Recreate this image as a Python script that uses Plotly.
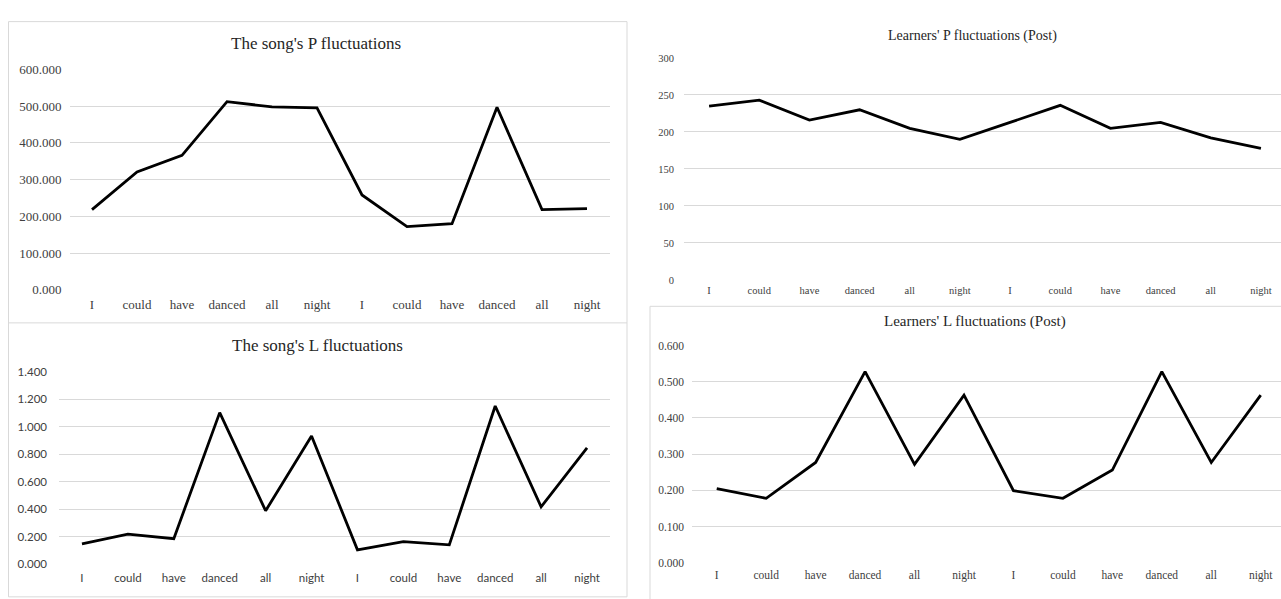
import plotly.graph_objects as go

W, H = 1281, 599

words = ["I", "could", "have", "danced", "all", "night",
         "I", "could", "have", "danced", "all", "night"]
positions = list(range(len(words)))

song_p = [218, 321, 366, 512, 498, 495, 258, 172, 180, 497, 218, 221]
song_l = [0.149, 0.220, 0.187, 1.104, 0.390, 0.934, 0.106, 0.166, 0.142, 1.152, 0.418, 0.847]
learn_p = [235, 243, 216, 230, 205, 190, 213, 236, 205, 213, 192, 178]
learn_l = [0.205, 0.178, 0.277, 0.528, 0.272, 0.463, 0.199, 0.178, 0.256, 0.528, 0.277, 0.463]

titles = ["The song's P fluctuations", "The song's L fluctuations",
          "Learners' P fluctuations (Post)", "Learners' L fluctuations (Post)"]


def fx(px):
    return px / W


def fy(py):
    return 1 - py / H


SERIF = "Liberation Serif, Times New Roman, serif"
SANS = "Lato, Carlito, Calibri, sans-serif"

panels = [
    dict(data=song_p, box=(69.5, 609.5, 64, 290), yr=[0, 600], dt=100, fmt=".3f",
         tfont=dict(family=SERIF, size=13, color="#404040"), ysb=7, xsb=5,
         title=titles[0], tpos=(316, 37), tsize=17, xr=[-0.5, 11.5]),
    dict(data=song_l, box=(59, 610, 374.3, 571.7), yr=[0, 1.4], dt=0.2, fmt=".3f",
         tfont=dict(family=SANS, size=11.5, color="#404040"), ysb=11, xsb=5,
         title=titles[1], tpos=(317, 347), tsize=17, xr=[-0.5, 11.5]),
    dict(data=learn_p, box=(684, 1281, 52.3, 280), yr=[0, 300], dt=50, fmt="d",
         tfont=dict(family=SERIF, size=10.5, color="#404040"), ysb=9, xsb=3,
         title=titles[2], tpos=(973, 30), tsize=14, xr=[-0.5, 11.4]),
    dict(data=learn_l, box=(692, 1281, 347.3, 570), yr=[0, 0.6], dt=0.1, fmt=".3f",
         tfont=dict(family=SERIF, size=11.5, color="#404040"), ysb=7, xsb=4,
         title=titles[3], tpos=(975, 323), tsize=15, xr=[-0.5, 11.41]),
]

fig = go.Figure()
layout = dict(
    width=W, height=H, margin=dict(l=0, r=0, t=0, b=0),
    paper_bgcolor="white", plot_bgcolor="white", showlegend=False,
)
annotations = []
for i, p in enumerate(panels):
    n = "" if i == 0 else str(i + 1)
    x0, x1, yt, yb = p["box"]
    fig.add_trace(go.Scatter(
        x=positions, y=p["data"], mode="lines",
        line=dict(color="black", width=2.8),
        xaxis="x" + n, yaxis="y" + n, hoverinfo="skip", cliponaxis=False,
    ))
    layout["xaxis" + n] = dict(
        domain=[fx(x0), fx(x1)], anchor="y" + n, range=p["xr"],
        tickmode="array", tickvals=positions, ticktext=words,
        showgrid=False, zeroline=False, showline=False, ticks="",
        tickfont=p["tfont"], ticklabelstandoff=p["xsb"], fixedrange=True,
    )
    layout["yaxis" + n] = dict(
        domain=[fy(yb), fy(yt)], anchor="x" + n, range=p["yr"],
        dtick=p["dt"], tick0=0, tickformat=p["fmt"],
        showgrid=True, gridcolor="#d9d9d9", gridwidth=1,
        zeroline=False, showline=False, ticks="",
        tickfont=p["tfont"], ticklabelstandoff=p["ysb"], fixedrange=True,
    )
    annotations.append(dict(
        text=p["title"], x=fx(p["tpos"][0]), y=fy(p["tpos"][1]),
        xref="paper", yref="paper", xanchor="center", yanchor="middle",
        showarrow=False, font=dict(family=SERIF, size=p["tsize"], color="#262626"),
    ))

border = dict(color="#d9d9d9", width=1)
shapes = [
    dict(type="rect", xref="paper", yref="paper", x0=fx(8.5), x1=fx(627),
         y0=fy(15), y1=fy(605), line=border, layer="below"),
    dict(type="line", xref="paper", yref="paper", x0=fx(8.5), x1=fx(627),
         y0=fy(324), y1=fy(324), line=border, layer="below"),
    dict(type="rect", xref="paper", yref="paper", x0=fx(650), x1=fx(1295),
         y0=fy(307), y1=fy(610), line=border, layer="below"),
]
layout["annotations"] = annotations
layout["shapes"] = shapes
fig.update_layout(**layout)

fig.write_html(
    "out.html",
    config={"displayModeBar": False},
    post_script="document.documentElement.style.margin='0';"
                "document.body.style.margin='0';"
                "document.body.style.overflow='hidden';",
)
